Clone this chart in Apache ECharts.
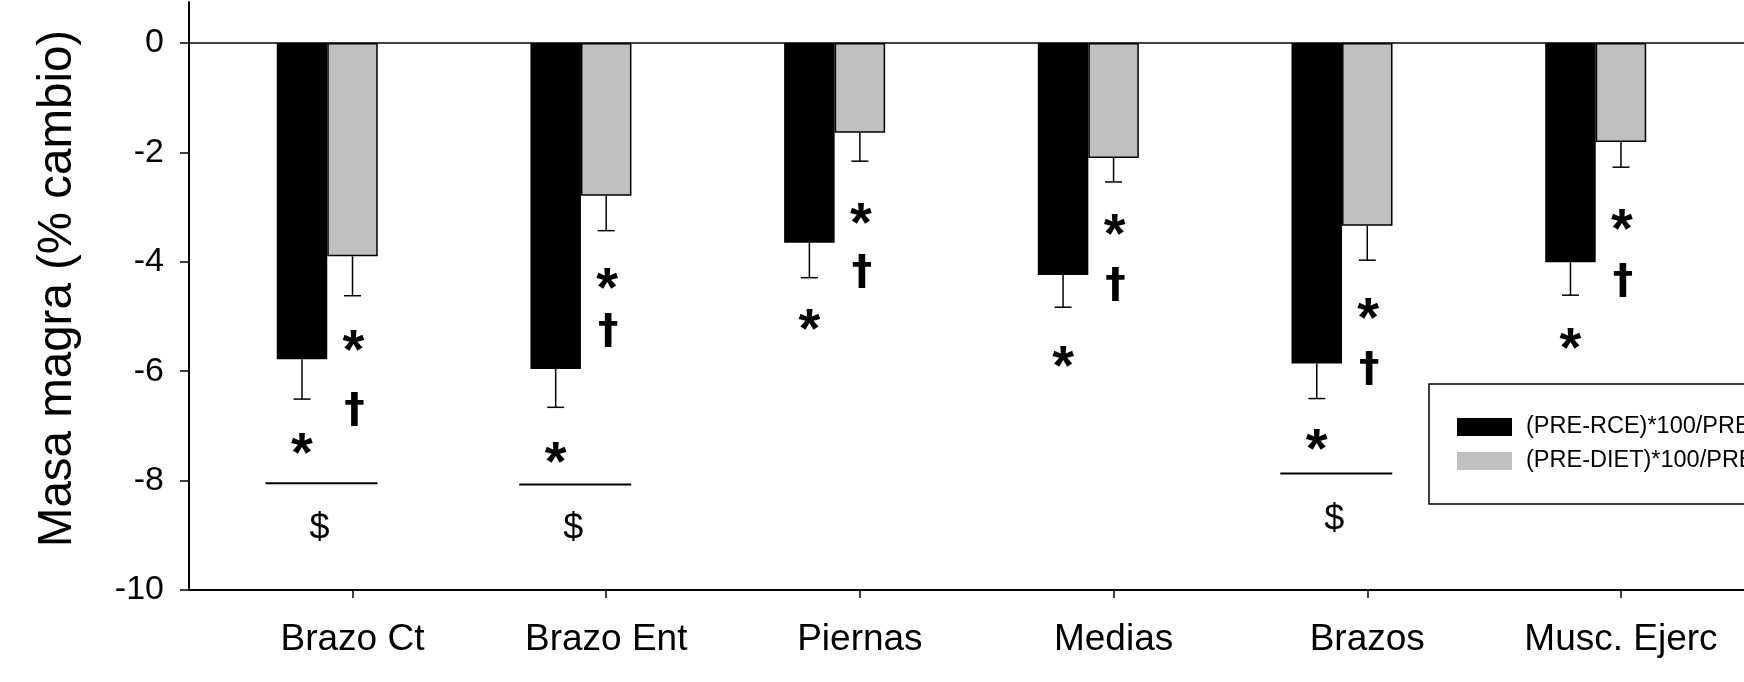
<!DOCTYPE html>
<html><head><meta charset="utf-8">
<script src="https://cdn.jsdelivr.net/npm/echarts@6/dist/echarts.min.js"></script>
<style>html,body{margin:0;padding:0;background:#fff}#c{width:1744px;height:682px}</style>
</head><body><div id="c"></div>
<script>
// ---- data ----
const categories = ['Brazo Ct', 'Brazo Ent', 'Piernas', 'Medias', 'Brazos', 'Musc. Ejerc'];
const rceMean = [-5.78, -5.96, -3.65, -4.24, -5.86, -4.01];
const rceErr = [0.73, 0.70, 0.64, 0.59, 0.64, 0.60];
const dietMean = [-3.90, -2.79, -1.64, -2.10, -3.34, -1.81];
const dietErr = [0.72, 0.64, 0.52, 0.44, 0.63, 0.46];
const yTicks = [-10, -8, -6, -4, -2, 0];
const rceStarY = [-7.35, -7.50, -5.08, -5.75, -7.26, -5.42];
const dietStarY = [-5.46, -4.32, -3.13, -3.33, -4.88, -3.25];
const dietDaggerY = [-6.75, -5.30, -4.22, -4.46, -6.01, -4.39];
const bracketY = [-8.05, -8.07, null, null, -7.87, null];
const dollarY = [-8.89, -8.89, null, null, -8.72, null];
const legendNames = ['(PRE-RCE)*100/PRE', '(PRE-DIET)*100/PRE'];
const yTitle = 'Masa magra (% cambio)';

// ---- style constants ----
const FONT = '"Liberation Sans", Arial, Helvetica, sans-serif';
const DAGGER_FONT = '"DejaVu Sans", "Liberation Sans", sans-serif';
const BAR_W = 50.5, CAP_W = 17;
const idx = categories.map((c, i) => i);

const chart = echarts.init(document.getElementById('c'));

function errItem(params, api) {
  const i = api.value(0);
  const ch = [];
  const st = { stroke: '#000', lineWidth: 1.5 };
  [[1, 2, -BAR_W], [3, 4, 0]].forEach(([m, e, dx]) => {
    const a = api.coord([i, api.value(m)]);
    const b = api.coord([i, api.value(m) - api.value(e)]);
    const x = a[0] + dx;
    ch.push({ type: 'line', shape: { x1: x, y1: a[1], x2: x, y2: b[1] }, style: st });
    ch.push({ type: 'line', shape: { x1: x - CAP_W / 2, y1: b[1], x2: x + CAP_W / 2, y2: b[1] }, style: st });
  });
  return { type: 'group', children: ch };
}

function txt(x, y, text, size, weight, family) {
  return { type: 'text', x: x, y: y, style: { text: text, fill: '#000', fontSize: size, fontWeight: weight, fontFamily: family || FONT, align: 'center', verticalAlign: 'middle' } };
}
function ok(v) { return v != null && !isNaN(v); }

function annItem(params, api) {
  const i = api.value(0);
  const ch = [];
  const pStar = api.coord([i, api.value(1)]);
  ch.push(txt(pStar[0] - BAR_W, pStar[1] + 11, '*', 56, 'bold'));
  const pGS = api.coord([i, api.value(2)]);
  ch.push(txt(pGS[0] + 1, pGS[1] + 11, '*', 56, 'bold'));
  const pD = api.coord([i, api.value(3)]);
  ch.push(txt(pD[0] + 2, pD[1] - 1, '\u2020', 41, 'bold', DAGGER_FONT));
  if (ok(api.value(4))) {
    const pl = api.coord([i, api.value(4)]);
    ch.push({ type: 'line', shape: { x1: pl[0] - 87, y1: pl[1], x2: pl[0] + 25, y2: pl[1] }, style: { stroke: '#000', lineWidth: 2 } });
  }
  if (ok(api.value(5))) {
    const pd = api.coord([i, api.value(5)]);
    ch.push(txt(pd[0] - 33, pd[1], '$', 36, 'normal'));
  }
  return { type: 'group', children: ch };
}

const option = {
  animation: false,
  backgroundColor: '#fff',
  textStyle: { fontFamily: FONT },
  grid: { left: 189, right: 0, top: 2, bottom: 92, outerBoundsMode: 'none' },
  legend: {
    data: legendNames, orient: 'vertical', left: 1429, top: 384,
    padding: [31, 40, 31, 28], itemWidth: 55, itemHeight: 18, itemGap: 10,
    icon: 'rect', borderColor: '#000', borderWidth: 1.5, selectedMode: false,
    itemStyle: { borderWidth: 0 },
    textStyle: { fontSize: 23.5, color: '#000', fontFamily: FONT, padding: [0, 0, 0, 9] }
  },
  xAxis: {
    type: 'value', min: -0.6445, max: 5.485,
    axisLine: { show: true, onZero: false, lineStyle: { color: '#000', width: 2 } },
    axisTick: { show: true, customValues: idx, length: 8, lineStyle: { color: '#000', width: 1.5 } },
    axisLabel: { customValues: idx, formatter: v => categories[Math.round(v)] || '', fontSize: 37, color: '#000', margin: 31, fontFamily: FONT },
    splitLine: { show: false }
  },
  yAxis: {
    type: 'value', min: -10, max: 0.75,
    name: yTitle, nameLocation: 'middle', nameGap: 107,
    nameTextStyle: { fontSize: 47.5, color: '#000', fontFamily: FONT, padding: [0, 0, 0, 15] },
    axisLine: { show: true, onZero: false, lineStyle: { color: '#000', width: 2 } },
    axisTick: { show: true, customValues: yTicks, length: 9, lineStyle: { color: '#000', width: 1.5 } },
    axisLabel: { customValues: yTicks, fontSize: 34, color: '#000', margin: 25, fontFamily: FONT },
    splitLine: { show: false }
  },
  series: [
    { type: 'bar', name: legendNames[0], data: idx.map(i => [i, rceMean[i]]), barWidth: BAR_W, barGap: '0%',
      itemStyle: { color: '#000', borderColor: '#000', borderWidth: 1.5 } },
    { type: 'bar', name: legendNames[1], data: idx.map(i => [i, dietMean[i]]), barWidth: BAR_W, barGap: '0%',
      itemStyle: { color: '#c0c0c0', borderColor: '#000', borderWidth: 1.5 },
      markLine: { silent: true, symbol: ['none', 'none'], label: { show: false },
        lineStyle: { color: '#000', width: 1.5, type: 'solid' }, data: [{ yAxis: 0 }] } },
    { type: 'bar', name: 'spacer', data: [], barWidth: BAR_W, barGap: '0%' },
    { type: 'custom', renderItem: errItem, z: 5,
      data: idx.map(i => [i, rceMean[i], rceErr[i], dietMean[i], dietErr[i]]) },
    { type: 'custom', renderItem: annItem, z: 6,
      data: idx.map(i => [i, rceStarY[i], dietStarY[i], dietDaggerY[i], bracketY[i], dollarY[i]]) }
  ]
};
chart.setOption(option);
</script></body></html>
